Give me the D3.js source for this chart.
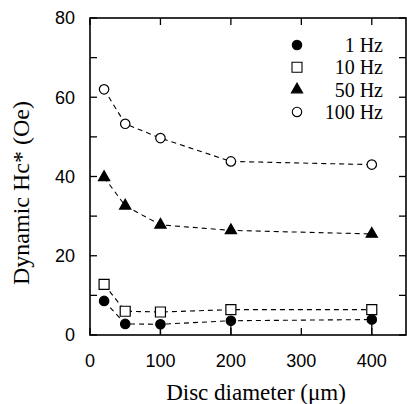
<!DOCTYPE html>
<html>
<head>
<meta charset="utf-8">
<script src="https://cdn.jsdelivr.net/npm/d3@7"></script>
<style>
  body { margin: 0; background: #fff; }
  svg { display: block; }
</style>
</head>
<body>
<svg id="chart" width="407" height="404"></svg>
<script>
// Disc diameters (um)
const diameters = [20, 50, 100, 200, 400];

// Dynamic Hc* (Oe) for each frequency
const hc1Hz   = [8.6, 2.8, 2.7, 3.6, 3.9];
const hc10Hz  = [12.8, 6.0, 5.8, 6.4, 6.4];
const hc50Hz  = [39.8, 32.6, 27.8, 26.4, 25.5];
const hc100Hz = [62.0, 53.3, 49.7, 43.8, 43.0];

// lower end of the error bars drawn on the 1 Hz series
const err1HzLow = [null, null, 0, 0, 0];

const legendLabels = ["1 Hz", "10 Hz", "50 Hz", "100 Hz"];
const xTicks = [0, 100, 200, 300, 400];
const yTicks = [0, 20, 40, 60, 80];
const yMinorTicks = [0, 10, 20, 30, 40, 50, 60, 70, 80];

const svg = d3.select("#chart");
const plotL = 90, plotR = 407, plotT = 18, plotB = 335;

const x = d3.scaleLinear().domain([0, 450]).range([plotL, plotR]);
const y = d3.scaleLinear().domain([0, 80]).range([plotB, plotT]);

// frame
const frame = svg.append("g").attr("stroke", "#000").attr("fill", "none");
frame.append("rect")
  .attr("x", plotL).attr("y", plotT)
  .attr("width", plotR - plotL - 1).attr("height", plotB - plotT)
  .attr("stroke-width", 1.6);

// inward ticks
const tl = 7;
frame.selectAll(".ly").data(yMinorTicks).join("line")
  .attr("x1", plotL).attr("x2", plotL + tl)
  .attr("y1", d => y(d)).attr("y2", d => y(d)).attr("stroke-width", 1.3);
frame.selectAll(".ry").data(yMinorTicks).join("line")
  .attr("x1", plotR - 1).attr("x2", plotR - 1 - tl)
  .attr("y1", d => y(d)).attr("y2", d => y(d)).attr("stroke-width", 1.3);
frame.selectAll(".bx").data(xTicks).join("line")
  .attr("x1", d => x(d)).attr("x2", d => x(d))
  .attr("y1", plotB).attr("y2", plotB - tl).attr("stroke-width", 1.3);
frame.selectAll(".tx").data(xTicks).join("line")
  .attr("x1", d => x(d)).attr("x2", d => x(d))
  .attr("y1", plotT).attr("y2", plotT + tl).attr("stroke-width", 1.3);

// tick labels
svg.append("g").selectAll("text").data(yTicks).join("text")
  .attr("x", plotL - 15).attr("y", d => y(d)).attr("dy", "0.36em")
  .attr("text-anchor", "end")
  .style("font-family", "'Liberation Sans', Arial, sans-serif")
  .style("font-size", "18px")
  .text(d => d);

svg.append("g").selectAll("text").data(xTicks).join("text")
  .attr("x", d => x(d)).attr("y", 367)
  .attr("text-anchor", "middle")
  .style("font-family", "'Liberation Sans', Arial, sans-serif")
  .style("font-size", "18px")
  .text(d => d);

// axis titles
svg.append("text")
  .attr("x", 256).attr("y", 400)
  .attr("text-anchor", "middle")
  .style("font-family", "'Liberation Serif', 'Times New Roman', serif")
  .style("font-size", "23px")
  .text("Disc diameter (\u03bcm)");

svg.append("text")
  .attr("transform", "translate(29,193) rotate(-90)")
  .attr("text-anchor", "middle")
  .style("font-family", "'Liberation Serif', 'Times New Roman', serif")
  .style("font-size", "24px")
  .text("Dynamic Hc* (Oe)");

// series
const series = [
  { values: hc1Hz, shape: "circle", fill: "#000" },
  { values: hc10Hz, shape: "square", fill: "#fff" },
  { values: hc50Hz, shape: "triangle", fill: "#000" },
  { values: hc100Hz, shape: "circle", fill: "#fff" }
];

const line = d3.line().x(d => x(d[0])).y(d => y(d[1]));

function symbolPath(shape) {
  if (shape === "circle") return d3.symbol(d3.symbolCircle, 70)();
  if (shape === "square") return d3.symbol(d3.symbolSquare, 100)();
  return d3.symbol(d3.symbolTriangle, 55)();
}

// error bars (1 Hz)
svg.append("g").selectAll("line")
  .data(diameters.map((d, i) => [d, hc1Hz[i], err1HzLow[i]]).filter(d => d[2] != null))
  .join("line")
  .attr("x1", d => x(d[0])).attr("x2", d => x(d[0]))
  .attr("y1", d => y(d[1])).attr("y2", d => y(d[2]))
  .attr("stroke", "#000").attr("stroke-width", 1.3);

series.forEach(s => {
  const pts = diameters.map((d, i) => [d, s.values[i]]);
  svg.append("path")
    .datum(pts)
    .attr("d", line)
    .attr("fill", "none")
    .attr("stroke", "#000")
    .attr("stroke-width", 1.1)
    .attr("stroke-dasharray", "5,4");
});

series.forEach(s => {
  const pts = diameters.map((d, i) => [d, s.values[i]]);
  svg.append("g").selectAll("path").data(pts).join("path")
    .attr("transform", d => `translate(${x(d[0])},${y(d[1])})`)
    .attr("d", symbolPath(s.shape))
    .attr("fill", s.fill)
    .attr("stroke", "#000")
    .attr("stroke-width", 1.2);
});

// legend
const legend = svg.append("g");
legendLabels.forEach((label, i) => {
  const ly = 45 + i * 22.3;
  legend.append("path")
    .attr("transform", `translate(297,${ly})`)
    .attr("d", symbolPath(series[i].shape))
    .attr("fill", series[i].fill)
    .attr("stroke", "#000")
    .attr("stroke-width", 1.1);
  legend.append("text")
    .attr("x", 383).attr("y", ly).attr("dy", "0.35em")
    .attr("text-anchor", "end")
    .style("font-family", "'Liberation Serif', 'Times New Roman', serif")
    .style("font-size", "20px")
    .text(label);
});
</script>
</body>
</html>
